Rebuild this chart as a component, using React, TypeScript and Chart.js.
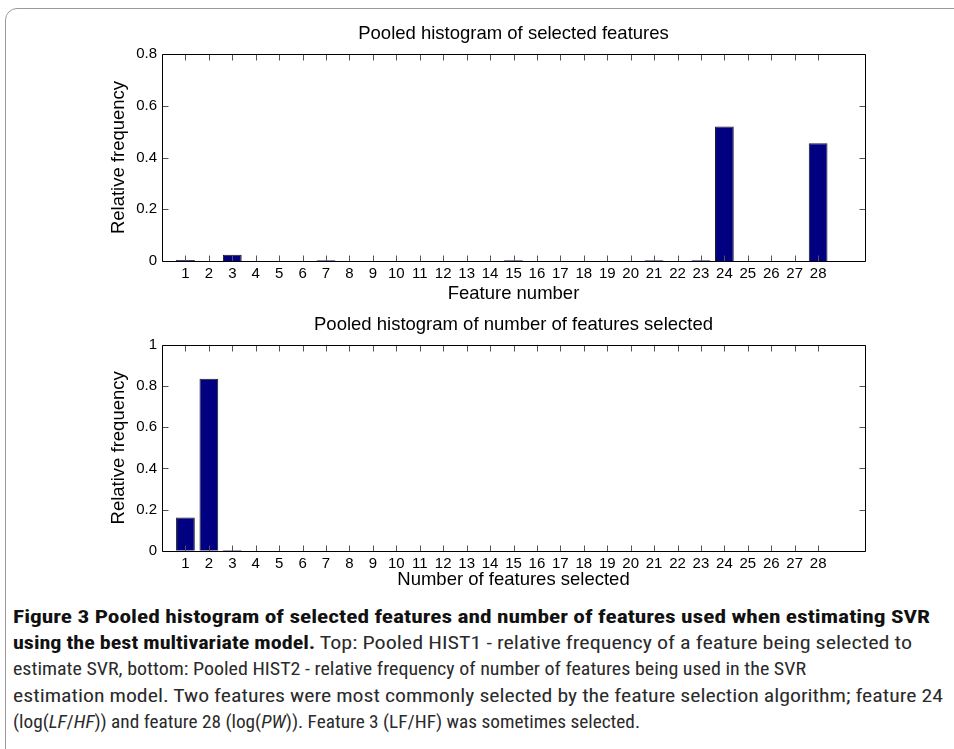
import React, { useEffect, useLayoutEffect, useRef } from "react";
import { Chart, registerables } from "chart.js";

Chart.register(...registerables);

// ---------- data ----------
const featureNumbers = [
  1, 2, 3, 4, 5, 6, 7, 8, 9, 10, 11, 12, 13, 14, 15, 16, 17, 18, 19, 20, 21, 22, 23, 24, 25, 26, 27, 28,
];
// Top: pooled relative frequency of each feature being selected
const featureFrequency = [
  0.004, 0, 0.024, 0, 0, 0, 0.003, 0, 0, 0, 0, 0, 0, 0, 0.003, 0, 0, 0, 0, 0, 0.003, 0, 0.003, 0.52, 0, 0, 0, 0.455,
];
// Bottom: pooled relative frequency of the number of features selected
const countFrequency = [
  0.161, 0.836, 0.003, 0, 0, 0, 0, 0, 0, 0, 0, 0, 0, 0, 0, 0, 0, 0, 0, 0, 0, 0, 0, 0, 0, 0, 0, 0,
];
const topYTicks = [0, 0.2, 0.4, 0.6, 0.8];
const bottomYTicks = [0, 0.2, 0.4, 0.6, 0.8, 1];
const xRange = [0, 30];

const topTitle = "Pooled histogram of selected features";
const topXLabel = "Feature number";
const bottomTitle = "Pooled histogram of number of features selected";
const bottomXLabel = "Number of features selected";
const yLabel = "Relative frequency";

const FONT = "'Liberation Sans', Arial, Helvetica, sans-serif";
const BAR = "#000080";

// ---------- matlab-like box with inward ticks ----------
const boxPlugin = {
  id: "matlabBox",
  afterDraw(chart: any) {
    const { ctx, chartArea: a, scales } = chart;
    const xs = scales.x;
    const ys = scales.y;
    const L = Math.round(a.left) + 0.5;
    const R = Math.round(a.right) + 0.5;
    const T = Math.round(a.top) + 0.5;
    const B = Math.round(a.bottom) + 0.5;
    ctx.save();
    ctx.lineWidth = 1;
    ctx.strokeStyle = "#555";
    ctx.beginPath();
    const tl = 6;
    xs.ticks.forEach((t: any) => {
      const px = Math.round(xs.getPixelForValue(t.value)) + 0.5;
      ctx.moveTo(px, B);
      ctx.lineTo(px, B - tl);
      ctx.moveTo(px, T);
      ctx.lineTo(px, T + tl);
    });
    ys.ticks.forEach((t: any) => {
      const py = Math.round(ys.getPixelForValue(t.value)) + 0.5;
      ctx.moveTo(L, py);
      ctx.lineTo(L + tl, py);
      ctx.moveTo(R, py);
      ctx.lineTo(R - tl, py);
    });
    ctx.stroke();
    ctx.strokeStyle = "#000";
    ctx.beginPath();
    ctx.moveTo(L, T);
    ctx.lineTo(R, T);
    ctx.lineTo(R, B);
    ctx.lineTo(L, B);
    ctx.closePath();
    ctx.stroke();
    ctx.restore();
  },
};

type PanelProps = {
  values: number[];
  yTicks: number[];
  title: string;
  xLabel: string;
  height: number;
  titlePadTop: number;
  titlePadBottom: number;
  xScaleHeight: number;
  xTitlePadBottom: number;
};

function Panel(p: PanelProps) {
  const ref = useRef<HTMLCanvasElement | null>(null);
  useEffect(() => {
    if (!ref.current) return;
    const yMax = p.yTicks[p.yTicks.length - 1];
    const chart = new Chart(ref.current, {
      type: "bar",
      data: {
        datasets: [
          {
            data: featureNumbers.map((f, i) => ({ x: f, y: p.values[i] })),
            backgroundColor: BAR,
            borderColor: "#1a1a1a",
            borderWidth: 1,
            barPercentage: 0.8,
            categoryPercentage: 1,
          },
        ],
      },
      options: {
        responsive: false,
        animation: false,
        devicePixelRatio: 1,
        layout: { padding: { left: 0, right: 89, top: 0, bottom: 0 } },
        plugins: {
          legend: { display: false },
          tooltip: { enabled: false },
          title: {
            display: true,
            text: p.title,
            fullSize: false,
            color: "#000",
            font: { family: FONT, size: 18.5, weight: "normal", lineHeight: 1.2 },
            padding: { top: p.titlePadTop, bottom: p.titlePadBottom },
          },
        },
        scales: {
          x: {
            type: "linear",
            min: xRange[0],
            max: xRange[1],
            offset: false,
            grid: { display: false, drawTicks: false },
            border: { display: false },
            afterBuildTicks: (s: any) => {
              s.ticks = featureNumbers.map((v) => ({ value: v }));
            },
            afterFit: (s: any) => {
              s.height = p.xScaleHeight;
            },
            ticks: {
              autoSkip: false,
              maxRotation: 0,
              padding: 4,
              color: "#000",
              font: { family: FONT, size: 15 },
              callback: (v: any) => String(v),
            },
            title: {
              display: true,
              text: p.xLabel,
              color: "#000",
              font: { family: FONT, size: 18.5, lineHeight: 1.2 },
              padding: { top: 0, bottom: p.xTitlePadBottom },
            },
          },
          y: {
            type: "linear",
            min: 0,
            max: yMax,
            grid: { display: false, drawTicks: false },
            border: { display: false },
            afterBuildTicks: (s: any) => {
              s.ticks = p.yTicks.map((v) => ({ value: v }));
            },
            afterFit: (s: any) => {
              s.width = 162;
            },
            ticks: {
              padding: 5,
              color: "#000",
              font: { family: FONT, size: 15 },
              callback: (v: any) => String(Number(Number(v).toFixed(2))),
            },
            title: {
              display: true,
              text: yLabel,
              color: "#000",
              font: { family: FONT, size: 18.5, lineHeight: 1.2 },
              padding: { top: 107.5, bottom: 0 },
            },
          },
        },
      },
      plugins: [boxPlugin],
    } as any);
    return () => chart.destroy();
  }, []);
  return <canvas ref={ref} width={954} height={p.height} style={{ display: "block" }} />;
}

// target widths of each caption line (px), matching the reference layout
const captionLineWidths = [917, 899, 793, 930, 627];

function Caption() {
  const spans = useRef<(HTMLSpanElement | null)[]>([]);
  useLayoutEffect(() => {
    const fit = () => {
      spans.current.forEach((el, i) => {
        if (!el) return;
        el.style.transform = "none";
        const w = el.getBoundingClientRect().width;
        if (w > 0) el.style.transform = `scaleX(${captionLineWidths[i] / w})`;
      });
    };
    fit();
    (document as any).fonts?.ready?.then(fit);
  }, []);
  const line: React.CSSProperties = { whiteSpace: "nowrap", height: 26.2, lineHeight: "26.2px" };
  const sp = (i: number) => ({
    ref: (el: HTMLSpanElement | null) => {
      spans.current[i] = el;
    },
    style: { display: "inline-block", transformOrigin: "0 50%" } as React.CSSProperties,
  });
  return (
    <div
      style={{
        position: "absolute",
        left: 13,
        top: 604,
        fontFamily: "'Liberation Sans Narrow', 'Roboto Condensed', 'DejaVu Sans Condensed', 'Liberation Sans', sans-serif",
        fontSize: 18.5,
        color: "#2a2a2a",
      }}
    >
      <div style={line}>
        <span {...sp(0)}>
          <b style={{ color: "#111" }}>
            Figure 3 Pooled histogram of selected features and number of features used when estimating SVR
          </b>
        </span>
      </div>
      <div style={line}>
        <span {...sp(1)}>
          <b style={{ color: "#111" }}>using the best multivariate model.</b> Top: Pooled HIST1 - relative frequency of
          a feature being selected to
        </span>
      </div>
      <div style={line}>
        <span {...sp(2)}>
          estimate SVR, bottom: Pooled HIST2 - relative frequency of number of features being used in the SVR
        </span>
      </div>
      <div style={line}>
        <span {...sp(3)}>
          estimation model. Two features were most commonly selected by the feature selection algorithm; feature 24
        </span>
      </div>
      <div style={line}>
        <span {...sp(4)}>
          (log(<i>LF</i>/<i>HF</i>)) and feature 28 (log(<i>PW</i>)). Feature 3 (LF/HF) was sometimes selected.
        </span>
      </div>
    </div>
  );
}

export default function App() {
  return (
    <div
      style={{
        position: "absolute",
        left: 0,
        top: 0,
        width: 954,
        height: 749,
        overflow: "hidden",
        background: "#fff",
      }}
    >
      <div
        style={{
          position: "absolute",
          left: 5,
          top: 8,
          width: 1000,
          height: 800,
          border: "1px solid #9a9a9a",
          borderRadius: 12,
        }}
      />
      <div style={{ position: "absolute", left: 0, top: 0 }}>
        <Panel
          values={featureFrequency}
          yTicks={topYTicks}
          title={topTitle}
          xLabel={topXLabel}
          height={310}
          titlePadTop={23.2}
          titlePadBottom={8.6}
          xScaleHeight={49}
          xTitlePadBottom={5}
        />
      </div>
      <div style={{ position: "absolute", left: 0, top: 310 }}>
        <Panel
          values={countFrequency}
          yTicks={bottomYTicks}
          title={bottomTitle}
          xLabel={bottomXLabel}
          height={290}
          titlePadTop={4.2}
          titlePadBottom={8.6}
          xScaleHeight={49.3}
          xTitlePadBottom={9}
        />
      </div>
      <Caption />
    </div>
  );
}
